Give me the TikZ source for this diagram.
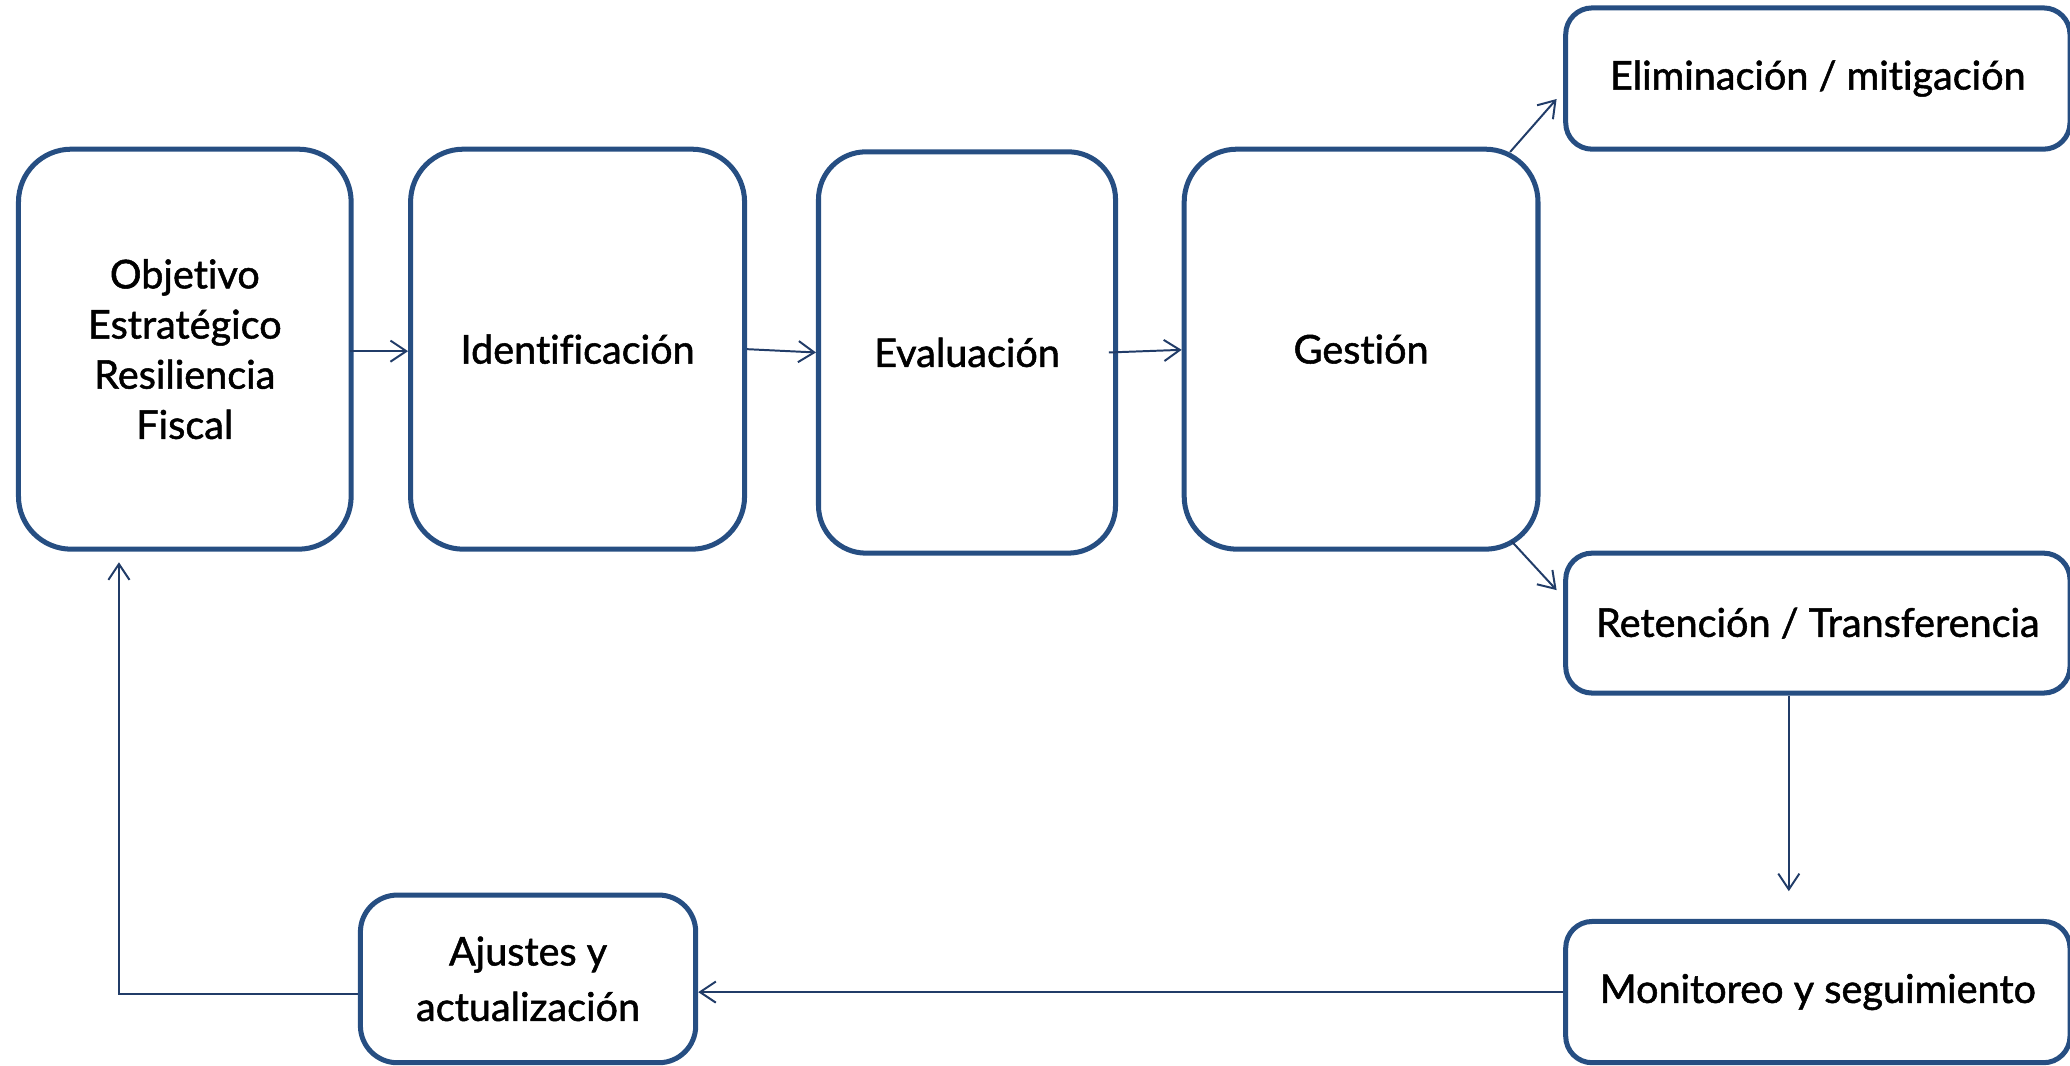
\documentclass[tikz,border=0pt]{standalone}
\usepackage{fontspec}
\setmainfont{Lato}[Ligatures=NoCommon, UprightFeatures={FakeBold=1.3}]
\usetikzlibrary{arrows.meta,calc}
\definecolor{boxblue}{RGB}{38,78,130}
\definecolor{arrblue}{RGB}{33,60,104}
\tikzset{
  bigbox/.style={draw=boxblue, line width=1.9pt, rounded corners=20pt, fill=white,
    align=center, inner sep=0pt, font=\fontsize{15}{19}\selectfont},
  smallbox/.style={draw=boxblue, line width=1.9pt, rounded corners=10pt, fill=white,
    align=center, inner sep=0pt, font=\fontsize{15}{21}\selectfont},
  conn/.style={draw=arrblue, line width=0.75pt, -{Straight Barb[length=6pt,width=8pt]}},
  plainconn/.style={draw=arrblue, line width=0.75pt}
}
\begin{document}
\begin{tikzpicture}[x=0.5pt,y=-0.5pt]
\useasboundingbox (0,0) rectangle (1568,807);
\node[bigbox, minimum width=126pt, minimum height=151.5pt] (o) at (140,264.5)
  {Objetivo\\Estratégico\\Resiliencia\\Fiscal};
\node[bigbox, minimum width=126.5pt, minimum height=151.5pt] (i) at (437.5,264.5) {Identificación};
\node[bigbox, rounded corners=18pt, minimum width=112.5pt, minimum height=152pt] (e) at (732.5,267) {Evaluación};
\node[bigbox, minimum width=134pt, minimum height=151.5pt] (g) at (1031,264.5) {Gestión};
\node[smallbox, minimum width=191pt, minimum height=53.5pt] (el) at (1377,59.5) {Eliminación / mitigación};
\node[smallbox, minimum width=191pt, minimum height=53pt] (rt) at (1377,472) {Retención / Transferencia};
\node[smallbox, minimum width=191pt, minimum height=53.5pt] (mo) at (1377,751.5) {Monitoreo y seguimiento};
\node[smallbox, rounded corners=14pt, minimum width=127pt, minimum height=63.5pt] (aj) at (400,741.5) {Ajustes y\\actualización};

\draw[conn] ($(o.east)+(-3,1.5)$) -- ($(i.west)+(0,1.5)$);
\draw[conn] (i.east) -- ($(e.west)+(0,0)$);
\draw[conn] ($(e.east)+(-7,0)$) -- ($(g.west)+(0,0.5)$);
\draw[conn] ($(g.north east)+(-23,4)$) -- ($(el.west)+(-5,15.5)$);
\draw[conn] ($(g.south east)+(-22,-8)$) -- ($(rt.west)+(-5,-25)$);
\draw[conn] ($(rt.south)+(-22,0)$) -- ($(mo.north)+(-22,-21)$);
\draw[conn] (mo.west) -- (aj.east |- mo.west);
\coordinate (up) at ($(o.south west)+(78,8)$);
\draw[conn] ($(aj.west)+(0,11.5)$) -| (up);
\end{tikzpicture}
\end{document}
